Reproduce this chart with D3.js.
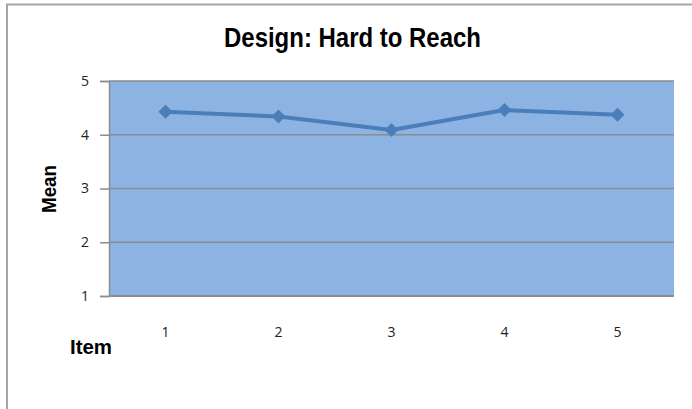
<!DOCTYPE html>
<html>
<head>
<meta charset="utf-8">
<script src="https://cdn.jsdelivr.net/npm/d3@7"></script>
<style>
  body { margin: 0; background: white; }
  svg { display: block; }
</style>
</head>
<body>
<main></main>
<script>
// mean score per item
const items = ["1", "2", "3", "4", "5"]
const means = [4.43, 4.34, 4.09, 4.46, 4.37]
const yTicks = [1, 2, 3, 4, 5]

const svgWidth = 692
const svgHeight = 409

// plot area
const plotLeft = 109
const plotRight = 674
const plotTop = 81
const plotBottom = 296

let svg = d3.select("main")
    .append("svg")
    .attr("width", svgWidth)
    .attr("height", svgHeight)

// outer frame (only top and left show in the picture)
svg.append("path")
    .attr("d", `M7,${svgHeight} V4.5 H${svgWidth}`)
    .style("fill", "none")
    .style("stroke", "#a6a6a6")
    .style("stroke-width", 2)

//title, squeezed to look like a narrow bold face
svg.append("text")
    .attr("x", 224)
    .attr("y", 47)
    .attr("textLength", 257)
    .attr("lengthAdjust", "spacingAndGlyphs")
    .style("font-family", "'Liberation Sans', Arial, sans-serif")
    .style("font-weight", "bold")
    .style("font-size", "27px")
    .attr("fill", "#000")
    .text("Design: Hard to Reach")

//scales
let xScale = d3.scaleBand()
    .domain(items)
    .range([plotLeft, plotRight])

let yScale = d3.scaleLinear()
    .domain([1, 5])
    .range([plotBottom, plotTop])

// plot background
svg.append("rect")
    .attr("x", plotLeft)
    .attr("y", plotTop)
    .attr("width", plotRight - plotLeft)
    .attr("height", plotBottom - plotTop)
    .style("fill", "#8db3e2")

// gridlines
svg.append("g")
    .selectAll("line")
    .data(yTicks.filter(d => d > 1))
    .enter()
    .append("line")
    .attr("x1", plotLeft)
    .attr("x2", plotRight)
    .attr("y1", d => yScale(d))
    .attr("y2", d => yScale(d))
    .style("stroke", "#8c8c8c")
    .style("stroke-width", 1.5)

//y axis
let leftAxis = d3.axisLeft(yScale)
    .tickValues(yTicks)
    .tickFormat(d3.format("d"))
    .tickSize(9)
    .tickPadding(11)

let yAxis = svg.append("g")
    .attr("transform", `translate(${plotLeft}, 0)`)
    .call(leftAxis)

yAxis.select("path")
    .style("stroke", "#8c8c8c")
    .style("stroke-width", 1.5)
yAxis.selectAll("line")
    .style("stroke", "#8c8c8c")
    .style("stroke-width", 1.5)
yAxis.selectAll("text")
    .style("font-family", "'Open Sans', sans-serif")
    .style("font-size", "14px")
    .attr("fill", "#222")

//x axis: baseline only, labels sit well below
svg.append("line")
    .attr("x1", plotLeft)
    .attr("x2", plotRight)
    .attr("y1", plotBottom)
    .attr("y2", plotBottom)
    .style("stroke", "#8c8c8c")
    .style("stroke-width", 2)

svg.append("g")
    .selectAll("text")
    .data(items)
    .enter()
    .append("text")
    .attr("x", d => xScale(d) + xScale.bandwidth() / 2)
    .attr("y", 337)
    .attr("text-anchor", "middle")
    .style("font-family", "'Open Sans', sans-serif")
    .style("font-size", "14px")
    .attr("fill", "#222")
    .text(d => d)

// axis titles
svg.append("text")
    .attr("x", 70)
    .attr("y", 354)
    .attr("textLength", 42)
    .attr("lengthAdjust", "spacingAndGlyphs")
    .style("font-family", "'Liberation Sans', Arial, sans-serif")
    .style("font-weight", "bold")
    .style("font-size", "21px")
    .text("Item")

svg.append("text")
    .attr("transform", "translate(56, 213) rotate(-90)")
    .attr("textLength", 48)
    .attr("lengthAdjust", "spacingAndGlyphs")
    .style("font-family", "'Liberation Sans', Arial, sans-serif")
    .style("font-weight", "bold")
    .style("font-size", "21px")
    .text("Mean")

// line
let line = d3.line()
    .x((d, i) => xScale(items[i]) + xScale.bandwidth() / 2)
    .y(d => yScale(d))

svg.append("path")
    .datum(means)
    .attr("d", line)
    .style("fill", "none")
    .style("stroke", "#4a7ebb")
    .style("stroke-width", 4)
    .style("stroke-linejoin", "round")

// diamond markers
svg.append("g")
    .selectAll("path")
    .data(means)
    .enter()
    .append("path")
    .attr("transform", (d, i) => `translate(${xScale(items[i]) + xScale.bandwidth() / 2}, ${yScale(d)})`)
    .attr("d", "M0,-7 L7,0 L0,7 L-7,0 Z")
    .style("fill", "#4a7ebb")
</script>
</body>
</html>
